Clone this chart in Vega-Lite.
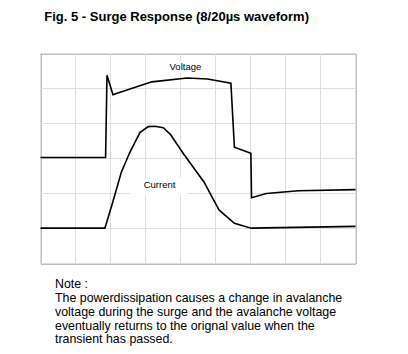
{
  "$schema": "https://vega.github.io/schema/vega-lite/v6.json",
  "width": 315,
  "height": 210,
  "autosize": {"type": "none"},
  "padding": {"left": 40.5, "top": 53.5, "right": 52.5, "bottom": 90.5},
  "background": "white",
  "title": {
    "text": "Fig. 5 - Surge Response (8/20µs waveform)",
    "anchor": "start",
    "dx": 7,
    "offset": 19.5,
    "baseline": "alphabetic",
    "font": "Liberation Sans",
    "fontSize": 13,
    "fontWeight": "bold",
    "color": "black"
  },
  "config": {
    "view": {"stroke": "#808080", "strokeWidth": 1},
    "axis": {"gridColor": "#dedede", "gridWidth": 1, "domain": false, "ticks": false, "labels": false, "translate": 0}
  },
  "datasets": {
    "waves": [
      {"series": "Voltage", "t": 0, "v": 3.03},
      {"series": "Voltage", "t": 1.86, "v": 3.03},
      {"series": "Voltage", "t": 1.9, "v": 5.38},
      {"series": "Voltage", "t": 2.07, "v": 4.82},
      {"series": "Voltage", "t": 2.17, "v": 4.86},
      {"series": "Voltage", "t": 3.18, "v": 5.19},
      {"series": "Voltage", "t": 4.19, "v": 5.3},
      {"series": "Voltage", "t": 4.77, "v": 5.27},
      {"series": "Voltage", "t": 5.44, "v": 5.15},
      {"series": "Voltage", "t": 5.54, "v": 3.32},
      {"series": "Voltage", "t": 6.01, "v": 3.15},
      {"series": "Voltage", "t": 6.03, "v": 1.88},
      {"series": "Voltage", "t": 6.45, "v": 2.0},
      {"series": "Voltage", "t": 7.37, "v": 2.08},
      {"series": "Voltage", "t": 9.0, "v": 2.11},
      {"series": "Current", "t": 0, "v": 1.01},
      {"series": "Current", "t": 1.84, "v": 1.01},
      {"series": "Current", "t": 2.07, "v": 1.77},
      {"series": "Current", "t": 2.31, "v": 2.61},
      {"series": "Current", "t": 2.55, "v": 3.17},
      {"series": "Current", "t": 2.84, "v": 3.74},
      {"series": "Current", "t": 3.08, "v": 3.91},
      {"series": "Current", "t": 3.27, "v": 3.92},
      {"series": "Current", "t": 3.51, "v": 3.88},
      {"series": "Current", "t": 3.71, "v": 3.69},
      {"series": "Current", "t": 4.09, "v": 3.13},
      {"series": "Current", "t": 4.67, "v": 2.33},
      {"series": "Current", "t": 5.1, "v": 1.53},
      {"series": "Current", "t": 5.54, "v": 1.15},
      {"series": "Current", "t": 6.02, "v": 1.01},
      {"series": "Current", "t": 9.0, "v": 1.06}
    ]
  },
  "layer": [
    {
      "data": {"name": "waves"},
      "mark": {"type": "line", "color": "black", "strokeWidth": 1.6, "strokeJoin": "miter"},
      "encoding": {
        "x": {
          "field": "t", "type": "quantitative",
          "scale": {"domain": [0, 9], "nice": false, "zero": false},
          "axis": {
            "values": [0, 1, 2, 3, 4, 5, 6, 7, 8, 9],
            "tickCount": 50,
            "grid": true,
            "title": [
              "Note :",
              "The powerdissipation causes a change in avalanche",
              "voltage during the surge and the avalanche voltage",
              "eventually returns to the orignal value when the",
              "transient has passed."
            ],
            "titleAnchor": "start",
            "titleAlign": "left",
            "titleBaseline": "alphabetic",
            "titleX": 14.5,
            "titleY": 24.8,
            "titleLineHeight": 13.75,
            "titleFont": "Liberation Sans",
            "titleFontSize": 12.4,
            "titleFontWeight": "normal",
            "titleColor": "black"
          }
        },
        "y": {
          "field": "v", "type": "quantitative",
          "scale": {"domain": [0, 6], "nice": false, "zero": false},
          "axis": {"values": [0, 1, 2, 3, 4, 5, 6], "tickCount": 50, "grid": true, "title": null}
        },
        "detail": {"field": "series"}
      }
    },
    {
      "data": {"values": [{"label": "Voltage"}]},
      "mark": {"type": "rect", "color": "white"},
      "encoding": {
        "x": {"datum": 3.65, "type": "quantitative"},
        "x2": {"datum": 4.63},
        "y": {"datum": 5.44, "type": "quantitative"},
        "y2": {"datum": 5.78}
      }
    },
    {
      "data": {"values": [{"label": "Current"}]},
      "mark": {"type": "rect", "color": "white"},
      "encoding": {
        "x": {"datum": 2.55, "type": "quantitative"},
        "x2": {"datum": 4.19},
        "y": {"datum": 1.95, "type": "quantitative"},
        "y2": {"datum": 2.45}
      }
    },
    {
      "data": {"values": [{"label": "Voltage"}]},
      "mark": {"type": "text", "font": "Liberation Sans", "fontSize": 9.5, "color": "black", "baseline": "middle", "align": "center"},
      "encoding": {
        "x": {"datum": 4.14, "type": "quantitative"},
        "y": {"datum": 5.61, "type": "quantitative"},
        "text": {"field": "label"}
      }
    },
    {
      "data": {"values": [{"label": "Current"}]},
      "mark": {"type": "text", "font": "Liberation Sans", "fontSize": 9.5, "color": "black", "baseline": "middle", "align": "center"},
      "encoding": {
        "x": {"datum": 3.4, "type": "quantitative"},
        "y": {"datum": 2.23, "type": "quantitative"},
        "text": {"field": "label"}
      }
    }
  ]
}
